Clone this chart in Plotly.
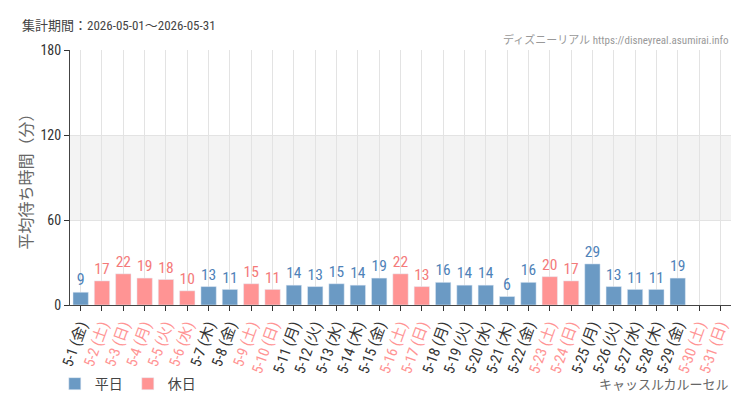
import plotly.graph_objects as go

# 集計データ（平均待ち時間・分）
DATES = [f'5-{d}' for d in range(1, 32)]
WEEKDAYS = ['金', '土', '日', '月', '火', '水', '木', '金', '土', '日', '月', '火', '水', '木', '金', '土',
            '日', '月', '火', '水', '木', '金', '土', '日', '月', '火', '水', '木', '金', '土', '日']
WAIT = [9, 17, 22, 19, 18, 10, 13, 11, 15, 11, 14, 13, 15, 14, 19, 22,
        13, 16, 14, 14, 6, 16, 20, 17, 29, 13, 11, 11, 19, None, None]
HOLIDAYS = ['5-2', '5-3', '5-4', '5-5', '5-6', '5-9', '5-10', '5-16', '5-17', '5-23', '5-24', '5-30', '5-31']

BLUE = '#6b9ac4'
PINK = '#ff9494'
BLUE_TXT = '#4f82b8'
PINK_TXT = '#f47a7a'
FONT = 'Roboto, "Noto Sans CJK JP", sans-serif'
NARROW = '"Liberation Sans Narrow", "Roboto Condensed", Roboto, "Noto Sans CJK JP", sans-serif'

labels = [f'{d} ({w})' for d, w in zip(DATES, WEEKDAYS)]
is_holiday = [d in HOLIDAYS for d in DATES]

weekday_vals = [v if not h else None for v, h in zip(WAIT, is_holiday)]
holiday_vals = [v if h else None for v, h in zip(WAIT, is_holiday)]

ticktext = [
    f'<span style="color:{PINK}">{lab}</span>' if h else lab
    for lab, h in zip(labels, is_holiday)
]

fig = go.Figure()

fig.add_trace(go.Bar(
    x=DATES, y=weekday_vals, name='平日',
    marker_color=BLUE, width=0.72,
    text=[str(v) if v is not None else '' for v in weekday_vals],
    textposition='outside', cliponaxis=False,
    textfont=dict(color=BLUE_TXT, size=16, family=NARROW),
))
fig.add_trace(go.Bar(
    x=DATES, y=holiday_vals, name='休日',
    marker_color=PINK, width=0.72,
    text=[str(v) if v is not None else '' for v in holiday_vals],
    textposition='outside', cliponaxis=False,
    textfont=dict(color=PINK_TXT, size=16, family=NARROW),
))

# 60〜120分の帯
fig.add_shape(type='rect', xref='paper', yref='y', x0=0, x1=1, y0=60, y1=120,
              fillcolor='#f3f3f3', line_width=0, layer='below')

fig.update_xaxes(
    tickmode='array', tickvals=DATES, ticktext=ticktext, tickangle=-70,
    ticks='outside', ticklen=5, tickcolor='#333',
    showline=True, linecolor='#444', linewidth=1,
    showgrid=True, gridcolor='#e3e3e3', automargin=False,
    tickfont=dict(size=15, color='#333', family=NARROW),
)
fig.update_yaxes(
    range=[0, 180], tickvals=[0, 60, 120, 180],
    ticks='outside', ticklen=5, tickcolor='#333',
    showline=True, linecolor='#444', linewidth=1,
    showgrid=True, gridcolor='#e3e3e3', zeroline=False, automargin=False,
    tickfont=dict(size=14, color='#333', family=NARROW),
    title=dict(text='平均待ち時間（分）', font=dict(size=16, color='#666', family=FONT), standoff=3),
)

fig.update_layout(
    width=750, height=410,
    barmode='overlay',
    plot_bgcolor='white', paper_bgcolor='white',
    margin=dict(l=62, r=27, t=42, b=113, autoexpand=False),
    showlegend=True,
    legend=dict(orientation='h', x=-0.023, y=-0.31, xanchor='left', yanchor='middle',
                font=dict(size=14, color='#444', family=NARROW), itemwidth=30),
    font=dict(family=FONT),
    annotations=[
        dict(text='集計期間：2026-05-01～2026-05-31', xref='paper', yref='paper',
             x=-0.0756, y=1.098, xanchor='left', yanchor='middle', showarrow=False,
             font=dict(size=13, color='#444', family=NARROW)),
        dict(text='ディズニーリアル https://disneyreal.asumirai.info', xref='paper', yref='paper',
             x=1.0, y=1.039, xanchor='right', yanchor='middle', showarrow=False,
             font=dict(size=11, color='#999', family=NARROW)),
        dict(text='キャッスルカルーセル', xref='paper', yref='paper',
             x=1.0, y=-0.31, xanchor='right', yanchor='middle', showarrow=False,
             font=dict(size=13, color='#666', family=NARROW)),
    ],
)

fig.write_html('out.html')
